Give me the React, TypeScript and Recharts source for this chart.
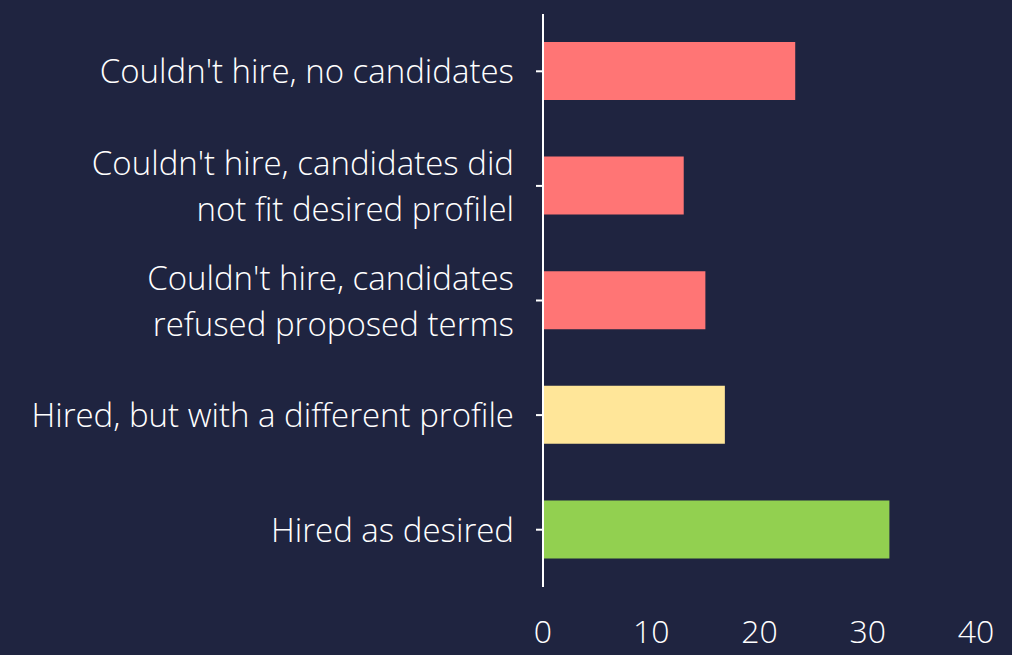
import { BarChart, Bar, XAxis, YAxis, Cell } from "recharts";

const categories = [
  "Couldn't hire, no candidates",
  "Couldn't hire, candidates did\nnot fit desired profilel",
  "Couldn't hire, candidates\nrefused proposed terms",
  "Hired, but with a different profile",
  "Hired as desired",
];
const values = [23.3, 13.0, 15.0, 16.8, 32.0];
const barColors = ["#ff7575", "#ff7575", "#ff7575", "#ffe699", "#92d050"];
const xTicks = [0, 10, 20, 30, 40];

const data = categories.map((name, i) => ({ name, value: values[i] }));

const FONT = "'Open Sans', 'Noto Sans', sans-serif";
const TEXT = "#ffffff";

// multi-line category label, lines split on \n
function CategoryTick(props: any) {
  const { x, y, payload } = props;
  const lines = String(payload.value).split("\n");
  const first = 12 - (lines.length - 1) * 23;
  return (
    <text x={x} y={y} textAnchor="end" fill={TEXT} fontSize={33} fontFamily={FONT} fontWeight={300}>
      {lines.map((line, i) => (
        <tspan key={i} x={x} dy={i === 0 ? first : 46}>
          {line}
        </tspan>
      ))}
    </text>
  );
}

export default function App() {
  return (
    <div style={{ position: "absolute", left: 0, top: 0, width: 1012, height: 655, background: "#1f2440" }}>
      <BarChart
        width={1012}
        height={655}
        data={data}
        layout="vertical"
        margin={{ top: 14, right: 36, left: 0, bottom: 0 }}
        barSize={58}
      >
        <XAxis
          type="number"
          domain={[0, 40]}
          ticks={xTicks}
          axisLine={false}
          tickLine={false}
          tickSize={0}
          tickMargin={33}
          height={68}
          tick={{ fill: TEXT, fontSize: 32, fontFamily: FONT, fontWeight: 300 }}
        />
        <YAxis
          type="category"
          dataKey="name"
          width={543}
          axisLine={{ stroke: "#ffffff", strokeWidth: 2 }}
          tickLine={{ stroke: "#ffffff", strokeWidth: 2 }}
          tickSize={7}
          tickMargin={22}
          interval={0}
          tick={<CategoryTick />}
        />
        <Bar dataKey="value" isAnimationActive={false}>
          {data.map((d, i) => (
            <Cell key={d.name} fill={barColors[i]} />
          ))}
        </Bar>
      </BarChart>
    </div>
  );
}
